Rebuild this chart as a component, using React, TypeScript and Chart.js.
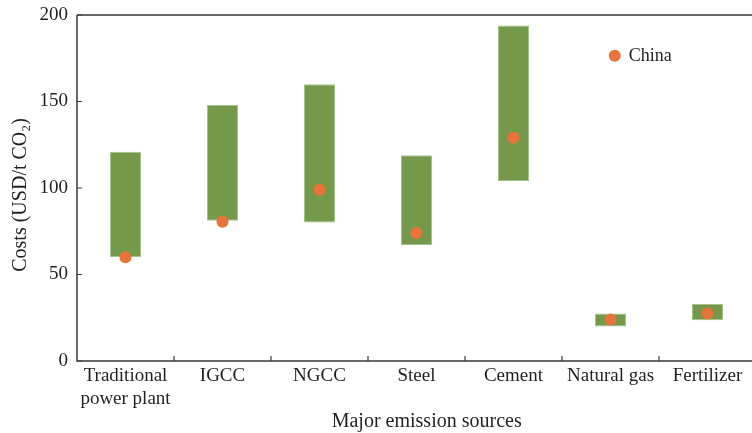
import React, { useEffect, useRef } from 'react';
import { Chart, registerables } from 'chart.js';

Chart.register(...registerables);

const categories: (string | string[])[] = [
  ['Traditional', 'power plant'],
  'IGCC',
  'NGCC',
  'Steel',
  'Cement',
  'Natural gas',
  'Fertilizer',
];
const rangeLow = [60, 81, 80, 67, 104, 20, 23.5];
const rangeHigh = [121, 148, 160, 119, 194, 27.5, 33];
const chinaValues = [60, 80.5, 99, 74, 129, 24, 27.5];
const yTickValues = [0, 50, 100, 150, 200];
const xTitle = 'Major emission sources';
const yTitle = 'Costs (USD/t CO₂)';

const FONT = "'Liberation Serif', 'Times New Roman', serif";
const TEXT = '#231f20';
const AXIS = '#3a3a3a';
const GREEN = '#74994a';
const ORANGE = '#e8733b';

const framePlugin = {
  id: 'frame',
  afterDatasetsDraw(chart: any) {
    const { ctx, chartArea, scales } = chart;
    const { left, right, top, bottom } = chartArea;
    ctx.save();
    ctx.strokeStyle = AXIS;
    ctx.lineWidth = 1.5;
    ctx.beginPath();
    ctx.moveTo(left, top);
    ctx.lineTo(right, top);
    ctx.moveTo(left, top);
    ctx.lineTo(left, bottom);
    ctx.lineTo(right, bottom);
    ctx.lineTo(right, top);
    ctx.stroke();
    // inward ticks
    ctx.lineWidth = 1.2;
    ctx.beginPath();
    const ys = scales.y;
    yTickValues.forEach((v) => {
      const py = ys.getPixelForValue(v);
      ctx.moveTo(left, py);
      ctx.lineTo(left + 5, py);
    });
    const xs = scales.x;
    for (let i = 1; i < categories.length; i++) {
      const px = (xs.getPixelForValue(i - 1) + xs.getPixelForValue(i)) / 2;
      ctx.moveTo(px, bottom);
      ctx.lineTo(px, bottom - 5);
    }
    ctx.stroke();
    // legend
    const lx = left + (right - left) * 0.792;
    const ly = top + (bottom - top) * 0.118;
    ctx.fillStyle = ORANGE;
    ctx.beginPath();
    ctx.arc(lx, ly, 6, 0, Math.PI * 2);
    ctx.fill();
    ctx.fillStyle = TEXT;
    ctx.font = `18px ${FONT}`;
    ctx.textBaseline = 'middle';
    ctx.textAlign = 'left';
    ctx.fillText(chart.data.datasets[1].label, lx + 14, ly);
    // axis titles
    ctx.font = `20px ${FONT}`;
    ctx.textAlign = 'center';
    ctx.fillText(xTitle, left + (right - left) * 0.515, 422);
    ctx.translate(21, top + (bottom - top) * 0.52);
    ctx.rotate(-Math.PI / 2);
    ctx.fillText(yTitle, 0, 0);
    ctx.restore();
  },
};

export default function App() {
  const ref = useRef<HTMLCanvasElement | null>(null);

  useEffect(() => {
    if (!ref.current) return;
    const chart = new Chart(ref.current, {
      type: 'bar',
      data: {
        labels: categories as any,
        datasets: [
          {
            type: 'bar',
            label: 'Range',
            data: rangeLow.map((lo, i) => [lo, rangeHigh[i]]) as any,
            backgroundColor: GREEN,
            borderColor: '#a6c38a',
            borderWidth: 1,
            borderSkipped: false,
            barPercentage: 0.32,
            categoryPercentage: 1,
            order: 2,
          },
          {
            type: 'line',
            label: 'China',
            data: chinaValues,
            showLine: false,
            pointRadius: 6,
            pointHoverRadius: 6,
            pointBackgroundColor: ORANGE,
            pointBorderWidth: 0,
            borderColor: ORANGE,
            order: 1,
          } as any,
        ],
      },
      options: {
        animation: false,
        responsive: false,
        maintainAspectRatio: false,
        layout: { padding: { left: 0, right: 14, top: 15, bottom: 0 } },
        plugins: {
          legend: { display: false },
          tooltip: { enabled: false },
        },
        scales: {
          x: {
            type: 'category',
            offset: true,
            grid: { display: false, drawTicks: false },
            border: { display: false },
            ticks: {
              color: TEXT,
              font: { family: FONT, size: 19 },
              padding: 4,
              maxRotation: 0,
              autoSkip: false,
            },
            afterFit: (s: any) => {
              s.height = 72;
              s.paddingLeft = 0;
              s.paddingRight = 0;
            },
          },
          y: {
            min: 0,
            max: 200,
            grid: { display: false, drawTicks: false },
            border: { display: false },
            ticks: {
              stepSize: 50,
              color: TEXT,
              font: { family: FONT, size: 19 },
              padding: 9,
            },
            afterFit: (s: any) => {
              s.width = 77;
              s.paddingTop = 0;
              s.paddingBottom = 0;
            },
          },
        },
      },
      plugins: [framePlugin],
    });
    return () => chart.destroy();
  }, []);

  return (
    <div style={{ position: 'fixed', left: 0, top: 0, width: 770, height: 433, background: '#fff' }}>
      <canvas ref={ref} width={770} height={433} style={{ display: 'block' }} />
    </div>
  );
}
